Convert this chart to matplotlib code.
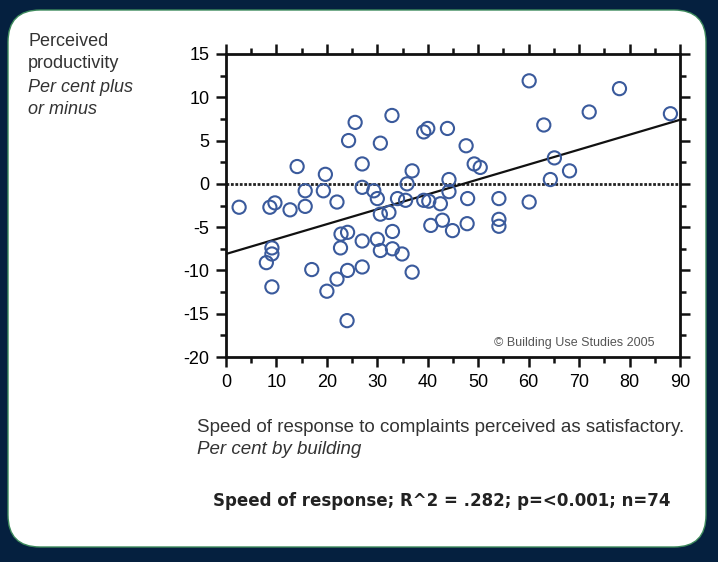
import numpy as np
import matplotlib.pyplot as plt
from matplotlib.patches import FancyBboxPatch
from matplotlib.ticker import MultipleLocator

plt.rcParams['font.family'] = ['Liberation Sans', 'DejaVu Sans']
plt.rcParams['axes.unicode_minus'] = False

# speed of response satisfactory (% by building) vs perceived productivity (%)
speed = [2.6, 8.7, 9.7, 12.7, 15.7, 14.1, 15.7, 19.3, 19.7, 22.0,
         8.0, 9.1, 9.1, 9.1, 17.0, 20.0, 22.0, 24.1, 24.0, 22.8,
         24.1, 22.7, 27.0, 30.0, 30.6, 33.0, 33.0, 34.9, 36.9, 27.0,
         25.6, 32.9, 24.3, 30.6, 27.0, 27.0, 29.3, 30.0, 30.6, 32.3,
         34.0, 35.6, 35.9, 36.9, 39.2, 40.2, 42.5, 40.6, 42.9, 44.9,
         47.8, 39.2, 40.0, 43.9, 47.6, 49.2, 50.4, 44.2, 44.2, 47.9,
         54.1, 54.1, 54.1, 60.1, 60.1, 63.0, 65.1, 64.3, 68.1, 72.0,
         78.0, 88.1]
productivity = [-2.7, -2.7, -2.2, -3.0, -2.6, 2.0, -0.8, -0.8, 1.1, -2.1,
                -9.1, -7.4, -8.1, -11.9, -9.9, -12.4, -11.0, -10.0, -15.8, -5.8,
                -5.6, -7.4, -6.6, -6.4, -7.7, -5.5, -7.5, -8.1, -10.2, -9.6,
                7.1, 7.9, 5.0, 4.7, 2.3, -0.4, -0.8, -1.7, -3.5, -3.3,
                -1.7, -1.9, 0.0, 1.5, -1.9, -2.0, -2.3, -4.8, -4.2, -5.4,
                -4.6, 6.0, 6.4, 6.4, 4.4, 2.3, 1.9, 0.5, -0.9, -1.7,
                -1.7, -4.1, -4.9, -2.1, 11.9, 6.8, 3.0, 0.5, 1.5, 8.3,
                11.0, 8.1]
fit_x = [0, 90]
fit_y = [-8.1, 7.4]

W, H = 718, 562


def px(x, y):
    return x / W, 1 - y / H


fig = plt.figure(figsize=(W / 100, H / 100), dpi=100)
fig.patch.set_facecolor('#05203f')

panel = FancyBboxPatch((0.08, 0.15), 6.98, 5.37,
                       boxstyle='round,pad=0,rounding_size=0.32',
                       transform=fig.dpi_scale_trans,
                       facecolor='white', edgecolor='#3d8a5c', lw=1.0,
                       zorder=-10)
fig.patches.append(panel)

ax = fig.add_axes([226 / W, 1 - 357 / H, 454 / W, 303 / H])
ax.set_facecolor('none')

ax.axhline(0, color='#222222', lw=2, ls=(0, (1, 0.6)), zorder=1)
ax.plot(fit_x, fit_y, color='#111111', lw=1.6, zorder=2)
ax.scatter(speed, productivity, s=90, facecolors='none',
           edgecolors='#3a5a9c', linewidths=1.5, zorder=3)

ax.set_xlim(0, 90)
ax.set_ylim(-20, 15)
ax.xaxis.set_major_locator(MultipleLocator(10))
ax.xaxis.set_minor_locator(MultipleLocator(5))
ax.yaxis.set_major_locator(MultipleLocator(5))
ax.yaxis.set_minor_locator(MultipleLocator(2.5))
ax.tick_params(which='both', direction='out', top=True, right=True,
               width=1.8, color='#111111', labelsize=13, labelcolor='#000000')
ax.tick_params(which='major', length=7, pad=5)
ax.tick_params(which='minor', length=4)
for sp in ax.spines.values():
    sp.set_linewidth(2)
    sp.set_color('#111111')

ax.text(0.59, 0.045, '\u00a9 Building Use Studies 2005', transform=ax.transAxes,
        fontsize=9, color='#555555', ha='left', va='center')

tc = '#333333'
fig.text(*px(28, 42), 'Perceived', fontsize=13, color=tc, va='center')
fig.text(*px(28, 64), 'productivity', fontsize=13, color=tc, va='center')
fig.text(*px(28, 87), 'Per cent plus', fontsize=13, color=tc, va='center',
         style='italic')
fig.text(*px(28, 109), 'or minus', fontsize=13, color=tc, va='center',
         style='italic')

fig.text(*px(197, 427), 'Speed of response to complaints perceived as satisfactory.',
         fontsize=13.5, color=tc, va='center')
fig.text(*px(197, 449), 'Per cent by building', fontsize=13.5, color=tc,
         va='center', style='italic')

fig.text(*px(213, 501), 'Speed of response; R^2 = .282; p=<0.001; n=74',
         fontsize=12, color='#222222', va='center', family='DejaVu Sans',
         weight='bold')

fig.savefig('out.png', dpi=100, facecolor=fig.get_facecolor())
